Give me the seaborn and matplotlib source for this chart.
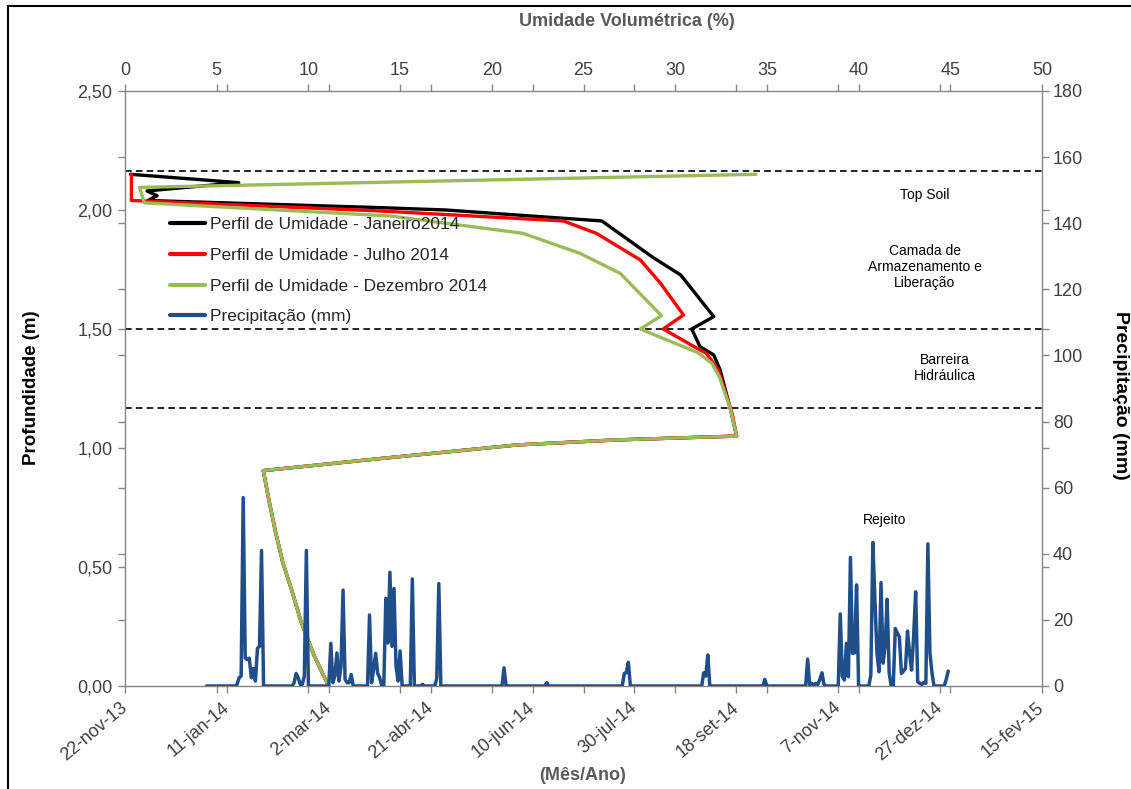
import numpy as np
import pandas as pd
import matplotlib
matplotlib.use("Agg")
import matplotlib.pyplot as plt
from matplotlib.lines import Line2D
from matplotlib.ticker import FuncFormatter
import seaborn as sns

# --- perfis de umidade (umidade volumetrica %, profundidade m) ---
# trecho comum aos tres perfis (abaixo de 1,05 m)
base_umid = [33.35, 26.8, 21.4, 14.1, 7.54, 7.85, 8.2, 8.6, 9.1, 9.6, 10.3, 11.1]
base_prof = [1.05, 1.034, 1.013, 0.957, 0.905, 0.78, 0.65, 0.52, 0.40, 0.27, 0.13, 0.0]

jan_umid = [0.3, 6.2, 1.2, 1.75, 1.25, 13.9, 17.5, 22.1, 26.0, 28.8, 30.3, 32.1, 30.9, 31.35, 32.1, 32.45, 33.0]
jan_prof = [2.15, 2.115, 2.08, 2.06, 2.04, 2.01, 2.0, 1.975, 1.954, 1.80, 1.727, 1.552, 1.50, 1.426, 1.391, 1.328, 1.167]

jul_umid = [0.35, 0.35, 13.9, 23.9, 25.7, 28.1, 29.2, 30.45, 29.35, 31.35, 31.7, 32.35, 33.1]
jul_prof = [2.15, 2.04, 1.996, 1.954, 1.902, 1.79, 1.692, 1.559, 1.50, 1.412, 1.398, 1.328, 1.146]

dez_umid = [34.4, 0.8, 1.05, 14.45, 21.7, 24.8, 27.0, 29.25, 28.1, 31.25, 32.0, 32.4, 33.0]
dez_prof = [2.15, 2.095, 2.03, 1.975, 1.902, 1.818, 1.734, 1.556, 1.50, 1.40, 1.356, 1.30, 1.167]

# limites das camadas (m)
camadas = [2.165, 1.50, 1.167]

# --- precipitacao diaria 2014 (dia do ano a partir de 0, mm); demais dias = 0 ---
chuva_dia = [15, 16, 17, 18, 19, 20, 21, 22, 23, 24, 25, 26, 27,
             43, 44, 45, 46, 47, 48, 49,
             61, 62, 63, 64, 65, 66, 67, 68, 69, 70, 71,
             80, 81, 82, 83, 84, 85, 88, 89, 90, 91, 92, 93, 94, 95,
             101, 106, 113, 114, 146, 167, 205, 206, 207, 244, 245, 246, 274,
             295, 296, 297, 298, 299, 300, 301, 302, 303,
             311, 312, 313, 314, 315, 316, 317, 318, 319,
             326, 327, 328, 329, 330, 331, 332, 333, 334, 335,
             338, 339, 340, 341, 342, 343, 344, 345, 346, 347, 348, 349,
             350, 351, 352, 353, 354, 355, 356, 363, 364]
chuva_mm = [0.5, 2.5, 3, 57, 8.5, 8, 8.4, 2.5, 5.3, 1.5, 11.4, 12, 41,
            1, 3.8, 2.5, 0.5, 0.5, 3, 41,
            12.9, 1, 3, 10, 1.5, 6, 29, 2, 1, 1, 3.5,
            21.5, 1, 5, 9.9, 3.8, 2.5, 26.5, 13, 34.4, 12, 29.5, 6, 1.5, 10.6,
            32.4, 0.5, 2.3, 31, 5.5, 1, 3.8, 4, 7.2, 4, 3, 9.4, 2,
            8.1, 0.3, 0.8, 0.3, 0.8, 0.5, 2, 4, 0.5,
            21.8, 3, 1.8, 12.9, 2.8, 38.9, 9.9, 10, 30.6,
            3.3, 43.4, 26.2, 10, 4.3, 31.3, 6.9, 12, 26.2, 4,
            17.4, 16, 14.9, 3.8, 4.5, 5.3, 16.6, 10, 4.8, 15, 28.5, 1.3,
            0.8, 0.5, 1, 0.8, 43, 10, 4, 2, 4.5]

data_ticks = ["2013-11-22", "2014-01-11", "2014-03-02", "2014-04-21", "2014-06-10",
              "2014-07-30", "2014-09-18", "2014-11-07", "2014-12-27", "2015-02-15"]
data_rotulos = ["22-nov-13", "11-jan-14", "2-mar-14", "21-abr-14", "10-jun-14",
                "30-jul-14", "18-set-14", "7-nov-14", "27-dez-14", "15-fev-15"]
umid_ticks = [0, 5, 10, 15, 20, 25, 30, 35, 40, 45, 50]
prof_ticks = [0, 0.5, 1.0, 1.5, 2.0, 2.5]
prec_ticks = [0, 20, 40, 60, 80, 100, 120, 140, 160, 180]

sns.set_style("white")
plt.rcParams["font.family"] = ["Liberation Sans", "DejaVu Sans"]

cinza = "#868686"
texto = "#404040"
cores = {"jan": "black", "jul": "#FF0000", "dez": "#9BBB59", "prec": "#1F4E89"}

dias = pd.date_range("2014-01-01", "2014-12-31", freq="D")
prec = np.zeros(len(dias))
prec[chuva_dia] = chuva_mm
df_prec = pd.DataFrame({"data": dias, "mm": prec})

perfis = [
    ("jan", jan_umid + base_umid, jan_prof + base_prof),
    ("jul", jul_umid + base_umid, jul_prof + base_prof),
    ("dez", dez_umid + base_umid, dez_prof + base_prof),
]

fig = plt.figure(figsize=(11.31, 7.89), dpi=100)
rect = [125 / 1131, 1 - 686 / 789, 917 / 1131, 595 / 789]
ax_m = fig.add_axes(rect)                    # umidade x profundidade
ax_p = fig.add_axes(rect, facecolor="none")  # data x precipitacao

for nome, u, p in perfis:
    df = pd.DataFrame({"umid": u, "prof": p})
    sns.lineplot(data=df, x="umid", y="prof", sort=False, estimator=None,
                 color=cores[nome], lw=2.4, ax=ax_m)

for c in camadas:
    ax_m.axhline(c, color="black", ls=(0, (4, 2.5)), lw=1.2, zorder=1)

sns.lineplot(data=df_prec, x="data", y="mm", color=cores["prec"], lw=2.5, ax=ax_p)

# eixo de umidade (topo) e profundidade (esquerda)
ax_m.set_xlim(0, 50)
ax_m.set_ylim(0, 2.5)
ax_m.xaxis.tick_top()
ax_m.set_xticks(umid_ticks)
ax_m.set_yticks(prof_ticks)
ax_m.yaxis.set_major_formatter(FuncFormatter(lambda v, _: f"{v:.2f}".replace(".", ",")))
ax_m.set_yticks([m * 2.5 / 180 for m in prec_ticks[1:-1]], minor=True)
ax_m.set_xlabel("")
ax_m.set_ylabel("")

# eixo de datas (base) e precipitacao (direita)
inicio = pd.Timestamp(data_ticks[0])
ax_p.set_xlim(inicio, pd.Timestamp(data_ticks[-1]))
ax_p.set_ylim(0, 180)
ax_p.yaxis.tick_right()
ax_p.set_yticks(prec_ticks)
ax_p.set_yticks([p * 180 / 2.5 for p in prof_ticks[1:-1]], minor=True)
ax_p.set_xticks(pd.to_datetime(data_ticks))
ax_p.set_xticklabels(data_rotulos, rotation=40, ha="right", va="center",
                     rotation_mode="anchor")
ax_p.set_xticks([inicio + pd.Timedelta(days=u * 9) for u in umid_ticks[1:-1]], minor=True)
ax_m.set_xticks([(pd.Timestamp(d) - inicio).days / 9 for d in data_ticks[1:-1]], minor=True)
ax_p.set_xlabel("")
ax_p.set_ylabel("")

for ax in (ax_m, ax_p):
    ax.tick_params(which="both", direction="out", length=5, width=1, color=cinza,
                   labelsize=13, labelcolor=texto)
    ax.tick_params(which="minor", labelleft=False, labelright=False,
                   labelbottom=False, labeltop=False)
    ax.grid(False)
ax_m.tick_params(axis="y", which="both", left=True, right=False, pad=4)
ax_m.tick_params(axis="x", which="both", top=True, bottom=False, pad=3.5)
ax_p.tick_params(axis="y", which="both", right=True, left=False, pad=3)
ax_p.tick_params(axis="x", which="both", bottom=True, top=False, pad=9)
for s in ax_m.spines.values():
    s.set_color(cinza)
    s.set_linewidth(1)
for s in ax_p.spines.values():
    s.set_visible(False)

# camadas
ax_m.text(43.6, 2.063, "Top Soil", ha="center", va="center", fontsize=10, color="black")
ax_m.text(43.6, 1.76, "Camada de\nArmazenamento e\nLiberação", ha="center", va="center",
          fontsize=10, color="black", linespacing=1.15)
ax_m.text(44.7, 1.336, "Barreira\nHidráulica", ha="center", va="center", fontsize=10,
          color="black", linespacing=1.15)
ax_m.text(41.4, 0.697, "Rejeito", ha="center", va="center", fontsize=10, color="black")

# legenda
rotulos = ["Perfil de Umidade - Janeiro2014", "Perfil de Umidade - Julho 2014",
           "Perfil de Umidade - Dezembro 2014", "Precipitação (mm)"]
handles = [Line2D([], [], color=cores[k], lw=3) for k in ("jan", "jul", "dez", "prec")]
fig.legend(handles, rotulos, loc="upper left", bbox_to_anchor=(170 / 1131, 1 - 217 / 789),
           frameon=False, fontsize=12.5, handlelength=2.0, handletextpad=0.3,
           labelspacing=0.9, borderpad=0, borderaxespad=0)

# titulos dos eixos
fig.text(627 / 1131, 1 - 22 / 789, "Umidade Volumétrica (%)", ha="center", va="center",
         fontsize=13, fontweight="bold", color="#595959")
fig.text(583 / 1131, 1 - 775 / 789, "(Mês/Ano)", ha="center", va="center",
         fontsize=13, fontweight="bold", color="#595959")
fig.text(32 / 1131, 1 - 388 / 789, "Profundidade (m)", ha="center", va="center",
         rotation=90, fontsize=13.5, fontweight="bold", color="black")
fig.text(1120 / 1131, 1 - 395 / 789, "Precipitação (mm)", ha="center", va="center",
         rotation=270, fontsize=14, fontweight="bold", color="black")

# moldura
fig.add_artist(Line2D([8 / 1131, 8 / 1131], [0, 1 - 6 / 789], color="black", lw=1.5))
fig.add_artist(Line2D([8 / 1131, 1], [1 - 6 / 789, 1 - 6 / 789], color="black", lw=1.5))

fig.savefig("out.png", dpi=100)
